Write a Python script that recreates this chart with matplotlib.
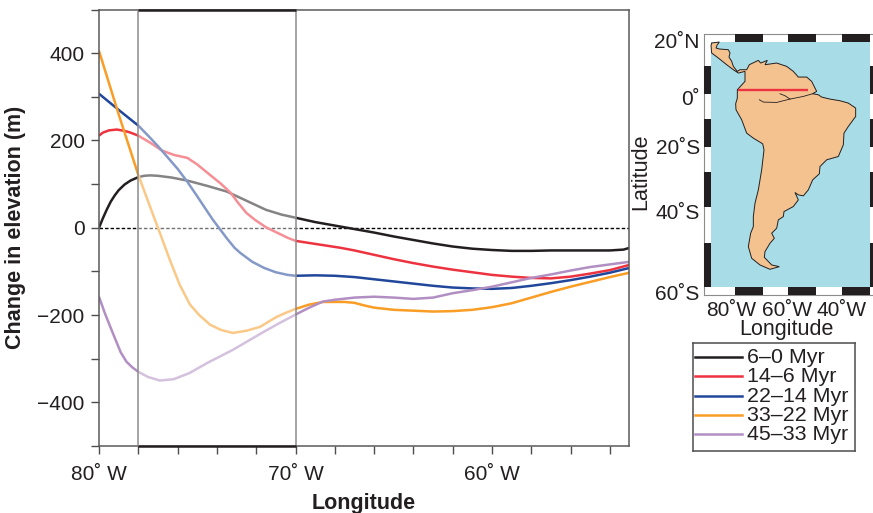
import matplotlib
matplotlib.use("Agg")
import matplotlib.pyplot as plt
from matplotlib.patches import Rectangle, Polygon

plt.rcParams['font.family'] = ['Liberation Sans', 'DejaVu Sans']
TXT = '#231f20'

# Change in elevation profiles (longitude in degrees W, elevation in m)
lon_black = [80, 79.8, 79.6, 79.4, 79.2, 79, 78.7, 78.4, 78, 77.7, 77.4, 77, 76.3, 75.5, 74.5, 73.5, 72.5, 71.5, 70.7, 70, 69, 68, 67, 66, 65, 64, 63, 62, 61, 60, 59, 58, 57, 56, 55, 54, 53.3, 53]
val_black = [0, 22, 42, 60, 74, 86, 99, 108, 116, 119, 120, 119, 115, 108, 96, 83, 62, 41, 30, 23, 13, 5, -3, -11, -20, -28, -36, -43, -48, -51, -53, -53, -52, -52, -52, -52, -50, -46]
lon_red = [80, 79.8, 79.5, 79.1, 78.7, 78.4, 78, 77.4, 76.8, 76.2, 75.5, 75, 74.35, 73.8, 73.3, 72.9, 72.5, 72.06, 71.5, 70.95, 70.4, 70, 69, 67.7, 67, 66, 65, 64, 63, 62, 61, 60, 59, 58, 57, 56, 55, 54, 53]
val_red = [211, 218, 223, 225, 222, 218, 211, 195, 177, 167, 160, 145, 121, 101, 80, 56, 34, 18, 1, -11, -23, -30, -37, -46, -52, -62, -72, -81, -89, -96, -102, -108, -112, -115, -116, -112, -105, -97, -85]
lon_blue = [80, 79, 78, 77.5, 77, 76.5, 76, 75.5, 75, 74.5, 74.2, 73.9, 73.5, 73.1, 72.8, 72.2, 71.6, 71, 70.4, 70, 69, 68, 67, 66, 65, 64, 63, 62, 61, 60, 59, 58, 57, 56, 55, 54, 53]
val_blue = [307, 270, 234, 211, 187, 161, 135, 105, 72, 38, 18, 0, -24, -46, -58, -78, -92, -102, -108, -110, -109, -110, -113, -118, -123, -128, -133, -137, -139, -140, -138, -133, -127, -120, -112, -103, -92]
lon_orange = [80, 79, 78, 77.25, 77, 76.4, 75.9, 75.37, 74.9, 74.35, 73.8, 73.2, 72.5, 71.8, 71.4, 70.95, 70.5, 70, 69.3, 68.6, 68, 67.5, 67, 66.5, 66, 65, 64, 63, 62, 61, 60, 59, 58, 57, 56, 55, 54, 53.4, 53]
val_orange = [405, 260, 121, 30, 0, -73, -130, -176, -200, -222, -234, -241, -236, -227, -216, -204, -195, -186, -176, -170, -170, -170, -172, -178, -183, -188, -190, -192, -191, -188, -182, -173, -160, -147, -135, -124, -113, -107, -103]
lon_purple = [80, 79.7, 79.3, 78.9, 78.6, 78.3, 78, 77.5, 76.9, 76.2, 75.4, 74.5, 73.2, 71.6, 70.8, 70, 69.3, 68.6, 68, 67, 66, 65, 64, 63, 62, 61, 60, 59, 58, 57, 56, 55, 54, 53]
val_purple = [-158, -196, -241, -285, -307, -320, -330, -342, -350, -347, -333, -310, -280, -238, -218, -199, -183, -169, -165, -160, -158, -160, -163, -160, -150, -143, -135, -125, -115, -107, -98, -90, -84, -78]

series_labels = ['6–0 Myr', '14–6 Myr', '22–14 Myr', '33–22 Myr', '45–33 Myr']
series_colors = ['#231f20', '#ee3340', '#21479b', '#f99d25', '#b28fc3']
series_lon = [lon_black, lon_red, lon_blue, lon_orange, lon_purple]
series_val = [val_black, val_red, val_blue, val_orange, val_purple]

x_major = [80, 70, 60]
x_major_labels = ['80˚ W', '70˚ W', '60˚ W']
x_minor = [78, 76, 74, 72, 68, 66, 64, 62, 58, 56, 54]
y_major = [-400, -200, 0, 200, 400]
y_major_labels = ['−400', '−200', '0', '200', '400']
y_minor = [-500, -300, -100, 100, 300, 500]

# South America outline (panel reading units)
coast_x = [243, 245, 268, 262, 258, 268, 295, 300, 297, 305, 310, 322, 330, 345, 350, 358, 385, 392, 412, 405, 440, 470, 490, 505, 530, 545, 555, 560, 548, 565, 575, 600, 630, 655, 677, 677, 655, 642, 640, 625, 590, 570, 568, 548, 535, 520, 505, 495, 505, 490, 462, 460, 445, 440, 425, 433, 420, 405, 403, 425, 448, 420, 390, 365, 355, 362, 370, 370, 375, 385, 395, 402, 398, 370, 350, 335, 318, 317, 322, 322, 345, 345, 325, 310, 290, 265, 245]
coast_y = [78, 70, 67, 75, 85, 88, 90, 100, 112, 125, 140, 155, 150, 150, 150, 135, 122, 130, 122, 135, 130, 140, 155, 172, 172, 185, 205, 215, 222, 225, 232, 238, 243, 250, 265, 290, 320, 340, 375, 410, 420, 440, 462, 480, 510, 528, 525, 518, 540, 560, 575, 590, 600, 625, 640, 655, 670, 695, 712, 735, 740, 748, 735, 715, 680, 640, 620, 590, 550, 510, 450, 390, 372, 355, 340, 300, 270, 252, 235, 210, 185, 155, 160, 150, 135, 115, 100]
river_x = [548, 520, 480, 440, 400, 388]
river_y = [222, 230, 238, 248, 247, 240]
branch_x = [450, 465, 480]
branch_y = [222, 228, 238]
transect_x = [325, 533]
transect_y = [212, 212]
map_x_ticks = [305, 470, 635]
map_x_labels = ['80˚W', '60˚W', '40˚W']
map_y_ticks = [63, 232, 381, 575, 818]
map_y_labels = ['20˚N', '0˚', '20˚S', '40˚S', '60˚S']
lat_edges = [66, 140, 224, 297, 381, 455, 560, 670, 802]
lon_edges = [243, 314, 399, 474, 559, 636, 720]

W, H = 873, 513
fig = plt.figure(figsize=(W / 100, H / 100), dpi=100)

def axes_px(l, t, r, b):
    return fig.add_axes([l / W, 1 - b / H, (r - l) / W, (b - t) / H])

# ---- main panel
ax = axes_px(99, 9.5, 629, 446)
ax.set_xlim(80, 80 - 530 / 19.65)
ax.set_ylim(-500, 500)
ax.axhline(0, color='black', lw=1, ls=(0, (2.5, 1.5)), zorder=1.5)
for lon, val, c in zip(series_lon, series_val, series_colors):
    ax.plot(lon, val, color=c, lw=1.8, solid_capstyle='butt', zorder=2)
ax.add_patch(Rectangle((78, -500), -8, 1000, fc='white', ec='none', alpha=0.45, zorder=3))
for xv in (78, 70):
    ax.axvline(xv, color='#8c8c8c', lw=1.1, zorder=4)
for yv in (-500, 500):
    ax.plot([78, 70], [yv, yv], color='#231f20', lw=1.8, clip_on=False, solid_capstyle='butt', zorder=5)
for s in ('left', 'bottom', 'top', 'right'):
    ax.spines[s].set_color('#5a5a5a')
    ax.spines[s].set_linewidth(1.1)
ax.set_xticks(x_major, x_major_labels)
ax.set_xticks(x_minor, minor=True)
ax.set_yticks(y_major, y_major_labels)
ax.set_yticks(y_minor, minor=True)
ax.tick_params(axis='y', which='both', length=5.8, width=1, color='#4d4d4d', labelsize=15, labelcolor=TXT, pad=4.5)
ax.tick_params(axis='x', which='both', direction='out', length=5.8, width=1, color='#4d4d4d', labelsize=15, labelcolor=TXT, pad=8)
fig.text(16 / W, 1 - 227 / H, 'Change in elevation (m)', rotation=90, ha='center', va='center',
         fontsize=15.5, fontweight='bold', color=TXT)
fig.text(364 / W, 1 - 503 / H, 'Longitude', ha='center', va='center', fontsize=15.5, fontweight='bold', color=TXT)

# ---- map panel
mp = axes_px(704, 34, 873, 295)
x0, x1 = 222, 729
y0, y1 = 43, 825
mp.set_xlim(x0, x1)
mp.set_ylim(y1, y0)
mp.add_patch(Rectangle((243, 66), 720 - 243, 802 - 66, fc='#a8dce6', ec='none', zorder=1))
mp.add_patch(Polygon(list(zip(coast_x, coast_y)), closed=True, fc='#f4c28f', ec='#231f20', lw=0.7, zorder=2))
mp.plot(river_x, river_y, color='#231f20', lw=0.6, zorder=3)
mp.plot(branch_x, branch_y, color='#231f20', lw=0.6, zorder=3)
mp.plot(transect_x, transect_y, color='#ee3340', lw=1.7, solid_capstyle='butt', zorder=4)
for a, b in zip(lat_edges[1::2], lat_edges[2::2]):
    mp.add_patch(Rectangle((222, a), 21, b - a, fc='#231f20', ec='none', zorder=5))
    mp.add_patch(Rectangle((720, a), 9, b - a, fc='#231f20', ec='none', zorder=5))
mp.add_patch(Rectangle((222, 670), 21, 132, fc='#231f20', ec='none', zorder=5))
for a, b in zip(lon_edges[1::2], lon_edges[2::2]):
    mp.add_patch(Rectangle((a, 43), b - a, 23, fc='#231f20', ec='none', zorder=5))
    mp.add_patch(Rectangle((a, 802), b - a, 23, fc='#231f20', ec='none', zorder=5))
for s in ('right', 'top', 'left', 'bottom'):
    mp.spines[s].set_color('#8c8c8c')
    mp.spines[s].set_linewidth(0.8)
mp.spines['right'].set_visible(False)
mp.set_xticks(map_x_ticks, map_x_labels)
mp.set_yticks(map_y_ticks, map_y_labels)
mp.tick_params(axis='both', length=0, labelsize=15, labelcolor=TXT)
mp.tick_params(axis='x', pad=4)
mp.tick_params(axis='y', pad=3)
fig.text(641 / W, 1 - 172 / H, 'Latitude', rotation=90, ha='center', va='center', fontsize=15.5, color=TXT)
fig.text(786 / W, 1 - 330 / H, 'Longitude', ha='center', va='center', fontsize=15.5, color=TXT)

# ---- legend
lg = axes_px(693, 343, 855, 451)
lg.set_xlim(693, 855)
lg.set_ylim(451, 343)
lg.set_xticks([])
lg.set_yticks([])
for s in lg.spines.values():
    s.set_color('#4d4d4d')
    s.set_linewidth(1.1)
for i, (lab, c) in enumerate(zip(series_labels, series_colors)):
    yy = 357 + i * 19.3
    lg.plot([695, 742], [yy, yy], color=c, lw=1.8)
    lg.text(747, yy + 0.5, lab, fontsize=15.4, va='center', ha='left', color=TXT)

fig.savefig('out.png', dpi=100)
